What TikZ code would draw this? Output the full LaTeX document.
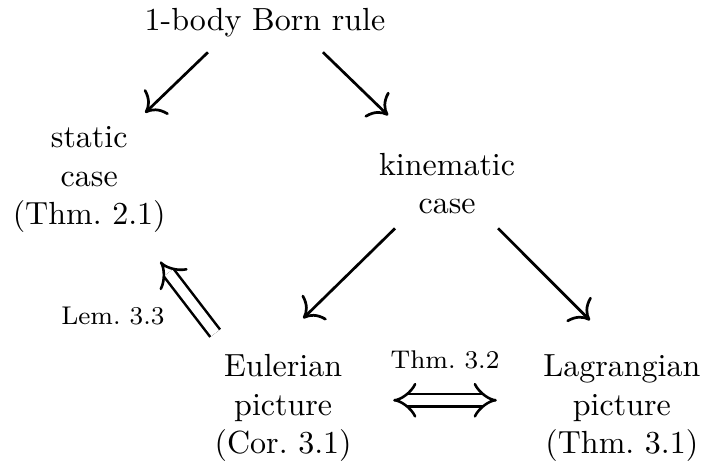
\documentclass[tikz,border=0pt]{standalone}
\usetikzlibrary{arrows.meta}
\begin{document}
\begin{tikzpicture}[>={To[scale=1.5]},x=1cm,y=1cm,line width=0.85pt]
	\tikzset{imp/.style={double,double distance=3pt,line width=0.8pt}}
	\useasboundingbox (0,0) rectangle (7.765,5.074);
	\node[align=center] (born) at (2.91,4.83) {1-body Born rule};
	\node[align=center] (static) at (0.98,3.10) {static\\case\\(Thm.~2.1)}; % nút trái
	\node[align=center] (kin) at (4.91,3.06) {kinematic\\case};
	\node[align=center] (euler) at (3.11,0.59) {Eulerian\\picture\\(Cor.~3.1)};
	\node[align=center] (lag) at (6.83,0.59) {Lagrangian\\picture\\(Thm.~3.1)};
	
	\draw[->] ([shift={(-0.626,-0.33)}]born.center) -- ([shift={(0.615,0.736)}]static.center);
	\draw[->] ([shift={(0.637,-0.33)}]born.center) -- ([shift={(-0.648,0.747)}]kin.center);
	\draw[->] ([shift={(-0.571,-0.494)}]kin.center) -- ([shift={(0.22,0.988)}]euler.center);
	\draw[->] ([shift={(0.56,-0.494)}]kin.center) -- ([shift={(-0.351,0.966)}]lag.center);
	
	\draw[imp,-{Implies[scale=1.2]}] ([shift={(-0.747,0.824)}]euler.center) -- ([shift={(0.78,-0.9)}]static.center) node[pos=0.24,left=8pt] (lem) {\footnotesize Lem.~3.3};
	\draw[imp,{Implies[scale=1.2]}-{Implies[scale=1.2]}] ([shift={(1.208,0.088)}]euler.center) -- ([shift={(-1.373,0.088)}]lag.center) node[midway,above=6pt] (thm) {\footnotesize Thm.~3.2};
\end{tikzpicture}
\end{document}
